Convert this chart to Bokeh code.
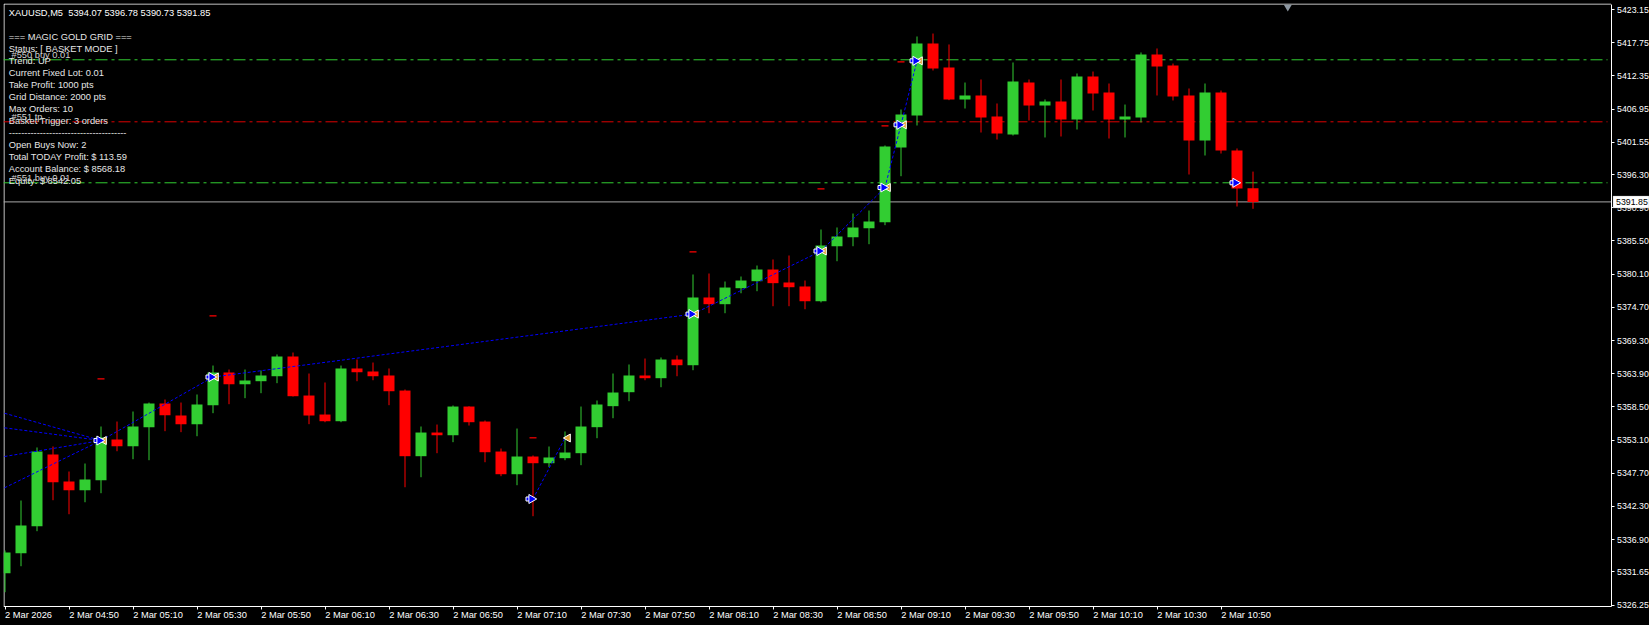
import math
from bokeh.plotting import figure
from bokeh.models import (ColumnDataSource, FixedTicker, Label, LinearAxis,
                          Range1d, GlobalInlineStyleSheet, BoxAnnotation)
from bokeh.core.properties import value
from bokeh.embed import file_html
from bokeh.resources import INLINE

# ---------------- data (XAUUSD M5, 2 Mar 2026, bars from 04:30) ----------------
opens = [5331.45, 5334.70, 5339.09, 5350.75, 5346.36, 5344.95, 5346.58, 5353.19, 5352.10, 5355.20,
         5359.05, 5357.10, 5355.69, 5358.78, 5364.10, 5362.19, 5362.68, 5363.49, 5366.70, 5360.35,
         5357.26, 5356.17, 5364.75, 5364.26, 5363.61, 5361.16, 5350.48, 5354.33, 5353.89, 5358.56,
         5356.12, 5351.24, 5347.55, 5350.43, 5349.34, 5350.16, 5350.97, 5355.20, 5358.62, 5360.89,
         5363.61, 5363.17, 5366.21, 5365.28, 5376.30, 5375.21, 5377.81, 5378.95, 5380.85, 5378.74,
         5378.09, 5375.69, 5384.64, 5386.10, 5387.57, 5388.55, 5400.70, 5405.90, 5417.62, 5413.71,
         5408.51, 5409.16, 5405.74, 5402.81, 5411.27, 5407.53, 5408.18, 5405.25, 5412.25, 5409.65,
         5405.25, 5405.58, 5415.83, 5414.04, 5409.16, 5401.84, 5409.65, 5400.21, 5394.07]
highs = [5335.14, 5343.27, 5351.90, 5352.06, 5347.99, 5349.29, 5355.31, 5356.12, 5357.75, 5359.21,
         5359.70, 5359.21, 5360.52, 5365.23, 5364.58, 5364.58, 5364.42, 5367.03, 5367.35, 5363.93,
         5362.47, 5365.23, 5366.21, 5365.72, 5364.75, 5361.33, 5355.31, 5355.63, 5358.73, 5358.60,
         5356.29, 5351.73, 5354.98, 5350.60, 5352.06, 5354.50, 5358.56, 5359.54, 5363.93, 5365.40,
         5366.37, 5366.54, 5366.86, 5380.04, 5380.20, 5378.90, 5379.71, 5381.50, 5382.48, 5383.13,
         5379.06, 5387.36, 5387.69, 5389.96, 5390.45, 5401.03, 5406.88, 5418.76, 5419.24, 5417.46,
         5411.27, 5411.76, 5407.86, 5414.53, 5411.76, 5408.51, 5411.76, 5412.74, 5413.06, 5411.11,
         5407.69, 5416.16, 5416.81, 5414.36, 5410.30, 5411.11, 5409.97, 5400.54, 5396.78]
lows = [5328.36, 5332.58, 5338.28, 5343.32, 5341.04, 5342.99, 5344.46, 5351.29, 5349.99, 5349.83,
        5354.55, 5354.39, 5353.73, 5357.48, 5358.94, 5359.92, 5360.73, 5362.36, 5360.19, 5355.69,
        5356.01, 5356.01, 5362.68, 5362.84, 5358.78, 5345.43, 5347.06, 5350.97, 5352.76, 5355.47,
        5349.50, 5347.23, 5345.76, 5340.72, 5348.69, 5349.83, 5349.02, 5353.41, 5356.66, 5359.43,
        5362.84, 5361.70, 5363.49, 5364.47, 5373.74, 5373.74, 5376.99, 5377.32, 5374.88, 5374.88,
        5374.39, 5375.50, 5382.20, 5384.64, 5384.97, 5388.06, 5396.03, 5404.28, 5413.23, 5408.40,
        5407.04, 5403.14, 5402.00, 5402.65, 5405.09, 5402.33, 5402.49, 5403.63, 5406.72, 5402.16,
        5402.33, 5404.77, 5409.16, 5408.35, 5396.31, 5399.40, 5399.72, 5391.10, 5390.73]
closes = [5334.82, 5339.20, 5351.24, 5346.25, 5344.95, 5346.69, 5353.52, 5352.10, 5355.31, 5359.05,
          5357.15, 5355.69, 5358.89, 5364.10, 5362.19, 5362.80, 5363.61, 5366.70, 5360.24, 5357.10,
          5356.17, 5364.75, 5364.14, 5363.49, 5361.05, 5350.48, 5354.33, 5353.89, 5358.56, 5356.01,
          5351.13, 5347.55, 5350.43, 5349.34, 5350.27, 5351.08, 5355.31, 5358.89, 5360.84, 5363.61,
          5363.17, 5366.21, 5365.28, 5376.30, 5375.21, 5377.92, 5379.06, 5380.85, 5378.63, 5377.97,
          5375.69, 5384.75, 5386.22, 5387.69, 5388.66, 5400.86, 5406.06, 5417.62, 5413.55, 5408.51,
          5409.16, 5405.58, 5402.98, 5411.44, 5407.53, 5408.18, 5405.25, 5412.25, 5409.49, 5405.25,
          5405.74, 5415.83, 5413.88, 5408.98, 5401.84, 5409.65, 5400.21, 5394.03, 5391.85]

price_ticks = [5423.15, 5417.75, 5412.35, 5406.95, 5401.55, 5396.30, 5390.90, 5385.50, 5380.10,
               5374.70, 5369.30, 5363.90, 5358.50, 5353.10, 5347.70, 5342.30, 5336.90, 5331.65, 5326.25]
price_tick_labels = ["5423.15", "5417.75", "5412.35", "5406.95", "5401.55", "5396.30", "5390.90",
                     "5385.50", "5380.10", "5374.70", "5369.30", "5363.90", "5358.50", "5353.10",
                     "5347.70", "5342.30", "5336.90", "5331.65", "5326.25"]

time_tick_bars = [0, 4, 8, 12, 16, 20, 24, 28, 32, 36, 40, 44, 48, 52, 56, 60, 64, 68, 72, 76]
time_tick_labels = ["2 Mar 2026", "2 Mar 04:50", "2 Mar 05:10", "2 Mar 05:30", "2 Mar 05:50",
                    "2 Mar 06:10", "2 Mar 06:30", "2 Mar 06:50", "2 Mar 07:10", "2 Mar 07:30",
                    "2 Mar 07:50", "2 Mar 08:10", "2 Mar 08:30", "2 Mar 08:50", "2 Mar 09:10",
                    "2 Mar 09:30", "2 Mar 09:50", "2 Mar 10:10", "2 Mar 10:30", "2 Mar 10:50"]

# closed trades: open bar, open price, close bar, close price
trade_open_bar = [-0.03, -0.03, -0.03, -0.03, 6, 13, 33, 43, 51, 55, 56]
trade_open_price = [5357.47, 5355.10, 5350.43, 5345.34, 5353.03, 5363.36, 5343.52, 5373.60, 5383.86, 5394.19, 5404.39]
trade_close_bar = [6, 6, 6, 6, 13, 43, 35, 51, 55, 56, 57]
trade_close_price = [5353.03, 5353.03, 5353.03, 5353.03, 5363.36, 5373.60, 5353.44, 5383.86, 5394.19, 5404.39, 5414.80]

buy_arrow_bar = [6, 13, 33, 43, 51, 55, 56, 57, 77]
buy_arrow_price = [5353.03, 5363.36, 5343.52, 5373.60, 5383.86, 5394.19, 5404.39, 5414.80, 5394.96]
close_mark_bar = [6, 13, 35, 43, 51, 55, 56, 57]
close_mark_price = [5353.03, 5363.36, 5353.44, 5373.60, 5383.86, 5394.19, 5404.39, 5414.80]

tp_mark_bar = [6, 13, 33, 43, 51, 55, 56]
tp_mark_price = [5363.07, 5373.30, 5353.47, 5383.73, 5393.98, 5404.23, 5414.64]

level_prices = [5414.97, 5404.88, 5394.96]
level_names = ["#550 buy 0.01", "#551 tp", "#551 buy 0.01"]
level_kinds = ["buy", "tp", "buy"]

bid_price = 5391.85
bid_text = "5391.85"
header_text = "XAUUSD,M5 \u00a05394.07 5396.78 5390.73 5391.85"
info_lines = ["=== MAGIC GOLD GRID ===",
              "Status: [ BASKET MODE ]",
              "Trend: UP",
              "Current Fixed Lot: 0.01",
              "Take Profit: 1000 pts",
              "Grid Distance: 2000 pts",
              "Max Orders: 10",
              "Basket Trigger: 3 orders",
              "--------------------------------------",
              "Open Buys Now: 2",
              "Total TODAY Profit: $ 113.59",
              "Account Balance: $ 8568.18",
              "Equity: $ 8542.05"]

# ---------------- layout ----------------
# canvas at page (0,0); frame covers 3..1649 x 3..625, chart area ends at the axes
# (x = 1610.5, y = 605.5), axes are pinned there with fixed_location.
FONT = "Liberation Sans"
FS = "9.3px"
FS_AX = "8.8px"
BAR_PX = 16.0
PRICE_PX = 6.147
FL, FT = 3, 3
FW, FH = 1646, 622


def bx(px):
    return (px - 4.5) / BAR_PX


def py(pyv):
    return 5423.15 - (pyv - 9) / PRICE_PX


X0 = bx(FL)
X1 = X0 + FW / BAR_PX
Y1 = py(FT)
Y0 = Y1 - FH / PRICE_PX
AX_X = bx(1610.5)     # price axis position
AX_Y = py(605.5)      # time axis position
LINE_END = bx(1607)

GREEN = "#32cd32"
RED = "#ff0000"

p = figure(frame_width=FW, frame_height=FH,
           x_range=Range1d(X0, X1), y_range=Range1d(Y0, Y1),
           output_backend="svg", toolbar_location=None,
           x_axis_location=None, y_axis_location=None,
           min_border_left=FL, min_border_top=FT, min_border_right=0, min_border_bottom=0,
           background_fill_color="#000000", border_fill_color="#000000",
           outline_line_color=None)
p.grid.visible = False
p.stylesheets = [GlobalInlineStyleSheet(css="html, body { background-color: #000000; }")]

# chart border (left and top)
p.segment(x0=[bx(3.5), bx(3.5)], y0=[py(3.5), py(3.5)], x1=[bx(3.5), AX_X], y1=[AX_Y, py(3.5)],
          line_color="#ffffff", line_width=1)

# horizontal order levels and bid line (behind the bars)
p.segment(x0=[X0] * len(level_prices), y0=level_prices,
          x1=[LINE_END] * len(level_prices), y1=level_prices,
          line_color=[GREEN if k == "buy" else "#dd0000" for k in level_kinds],
          line_dash="12 4 3 4", line_width=1)
p.segment(x0=[X0], y0=[bid_price], x1=[AX_X], y1=[bid_price], line_color="#a9a9a9", line_width=1)

# candles
n = len(opens)
colors = [GREEN if c >= o else RED for o, c in zip(opens, closes)]
src = ColumnDataSource(dict(
    x=list(range(n)), h=highs, l=lows,
    top=[max(o, c) for o, c in zip(opens, closes)],
    bottom=[min(o, c) for o, c in zip(opens, closes)],
    color=colors))
p.segment(x0="x", y0="l", x1="x", y1="h", line_color="color", line_width=1, source=src)
p.vbar(x="x", width=11 / BAR_PX, top="top", bottom="bottom", fill_color="color",
       line_color=None, source=src)

# trade history lines
p.segment(x0=trade_open_bar, y0=trade_open_price, x1=trade_close_bar, y1=trade_close_price,
          line_color="#0000ff", line_dash="3 2", line_width=1)

# TP marks
p.scatter(x=tp_mark_bar, y=tp_mark_price, marker="dash", size=7, line_color=RED, line_width=1.2)

# close marks (gold, pointing left)
p.scatter(x=[b + 3 / BAR_PX for b in close_mark_bar], y=close_mark_price, marker="triangle",
          angle=math.pi / 2, size=8, fill_color="#e0a030", line_color="#ffffff", line_width=1)
# buy arrows (blue, pointing right)
p.scatter(x=[b - 5 / BAR_PX for b in buy_arrow_bar], y=buy_arrow_price, marker="square",
          size=4, fill_color="#0000ff", line_color="#ffffff", line_width=1)
p.scatter(x=[b - 1.5 / BAR_PX for b in buy_arrow_bar], y=buy_arrow_price, marker="triangle",
          angle=-math.pi / 2, size=9, fill_color="#0000ff", line_color="#ffffff", line_width=1)

# chart-shift marker
p.scatter(x=[bx(1287.3)], y=[py(6.5)], marker="inverted_triangle", size=8,
          fill_color="#8c96a0", line_color=None)

# texts
p.text(x=[bx(8.3)], y=[py(12)], text=[header_text], text_font=value(FONT),
       text_font_size=FS, text_color="#ffffff", text_baseline="middle", text_align="left")
p.text(x=[bx(8.3)] * len(info_lines), y=[py(36.3 + 12 * k) for k in range(len(info_lines))],
       text=info_lines, text_font=value(FONT), text_font_size=FS, text_color="#e6e6e6",
       text_baseline="middle", text_align="left")
p.text(x=[bx(11)] * len(level_names), y=[pr + 0.85 for pr in level_prices], text=level_names,
       text_font=value(FONT), text_font_size=FS, text_color="#d0d0d0",
       text_baseline="middle", text_align="left")

# price axis (right, pinned at the chart's right edge)
yaxis = LinearAxis(ticker=FixedTicker(ticks=price_ticks),
                   major_label_overrides=dict(zip(price_ticks, price_tick_labels)),
                   fixed_location=AX_X, bounds=(AX_Y, py(3.5)),
                   axis_line_color="#ffffff", major_tick_line_color="#ffffff",
                   major_tick_in=0, major_tick_out=3, minor_tick_line_color=None,
                   major_label_standoff=3, major_label_text_color="#ffffff",
                   major_label_text_font=FONT, major_label_text_font_size=FS_AX)
p.add_layout(yaxis, "right")

# time axis: tick marks at the bars (minor ticks), labels left-aligned at the marks
label_pos = [b + (23.5 / BAR_PX if k == 0 else 25 / BAR_PX) for k, b in enumerate(time_tick_bars)]
xaxis = LinearAxis(ticker=FixedTicker(ticks=label_pos, minor_ticks=time_tick_bars),
                   major_label_overrides=dict(zip(label_pos, time_tick_labels)),
                   fixed_location=AX_Y, bounds=(X0, AX_X),
                   axis_line_color="#ffffff", major_tick_line_color=None,
                   major_tick_in=0, major_tick_out=0,
                   minor_tick_line_color="#ffffff", minor_tick_in=0, minor_tick_out=3,
                   major_label_standoff=1, major_label_text_color="#ffffff",
                   major_label_text_font=FONT, major_label_text_font_size=FS)
p.add_layout(xaxis, "below")

# bid price box on the price axis
p.add_layout(BoxAnnotation(left=bx(1612.5), right=bx(1648.5), bottom=py(207.5), top=py(195.5),
                           fill_color="#ffffff", fill_alpha=1.0, line_color="#9a9a9a",
                           line_width=1, level="annotation"))
p.add_layout(Label(x=bx(1615.5), y=bid_price, text=bid_text, text_baseline="middle",
                   text_align="left", text_font=FONT, text_font_size=FS_AX, text_color="#000000",
                   level="overlay"))

open("out.html", "w").write(file_html(p, INLINE))
